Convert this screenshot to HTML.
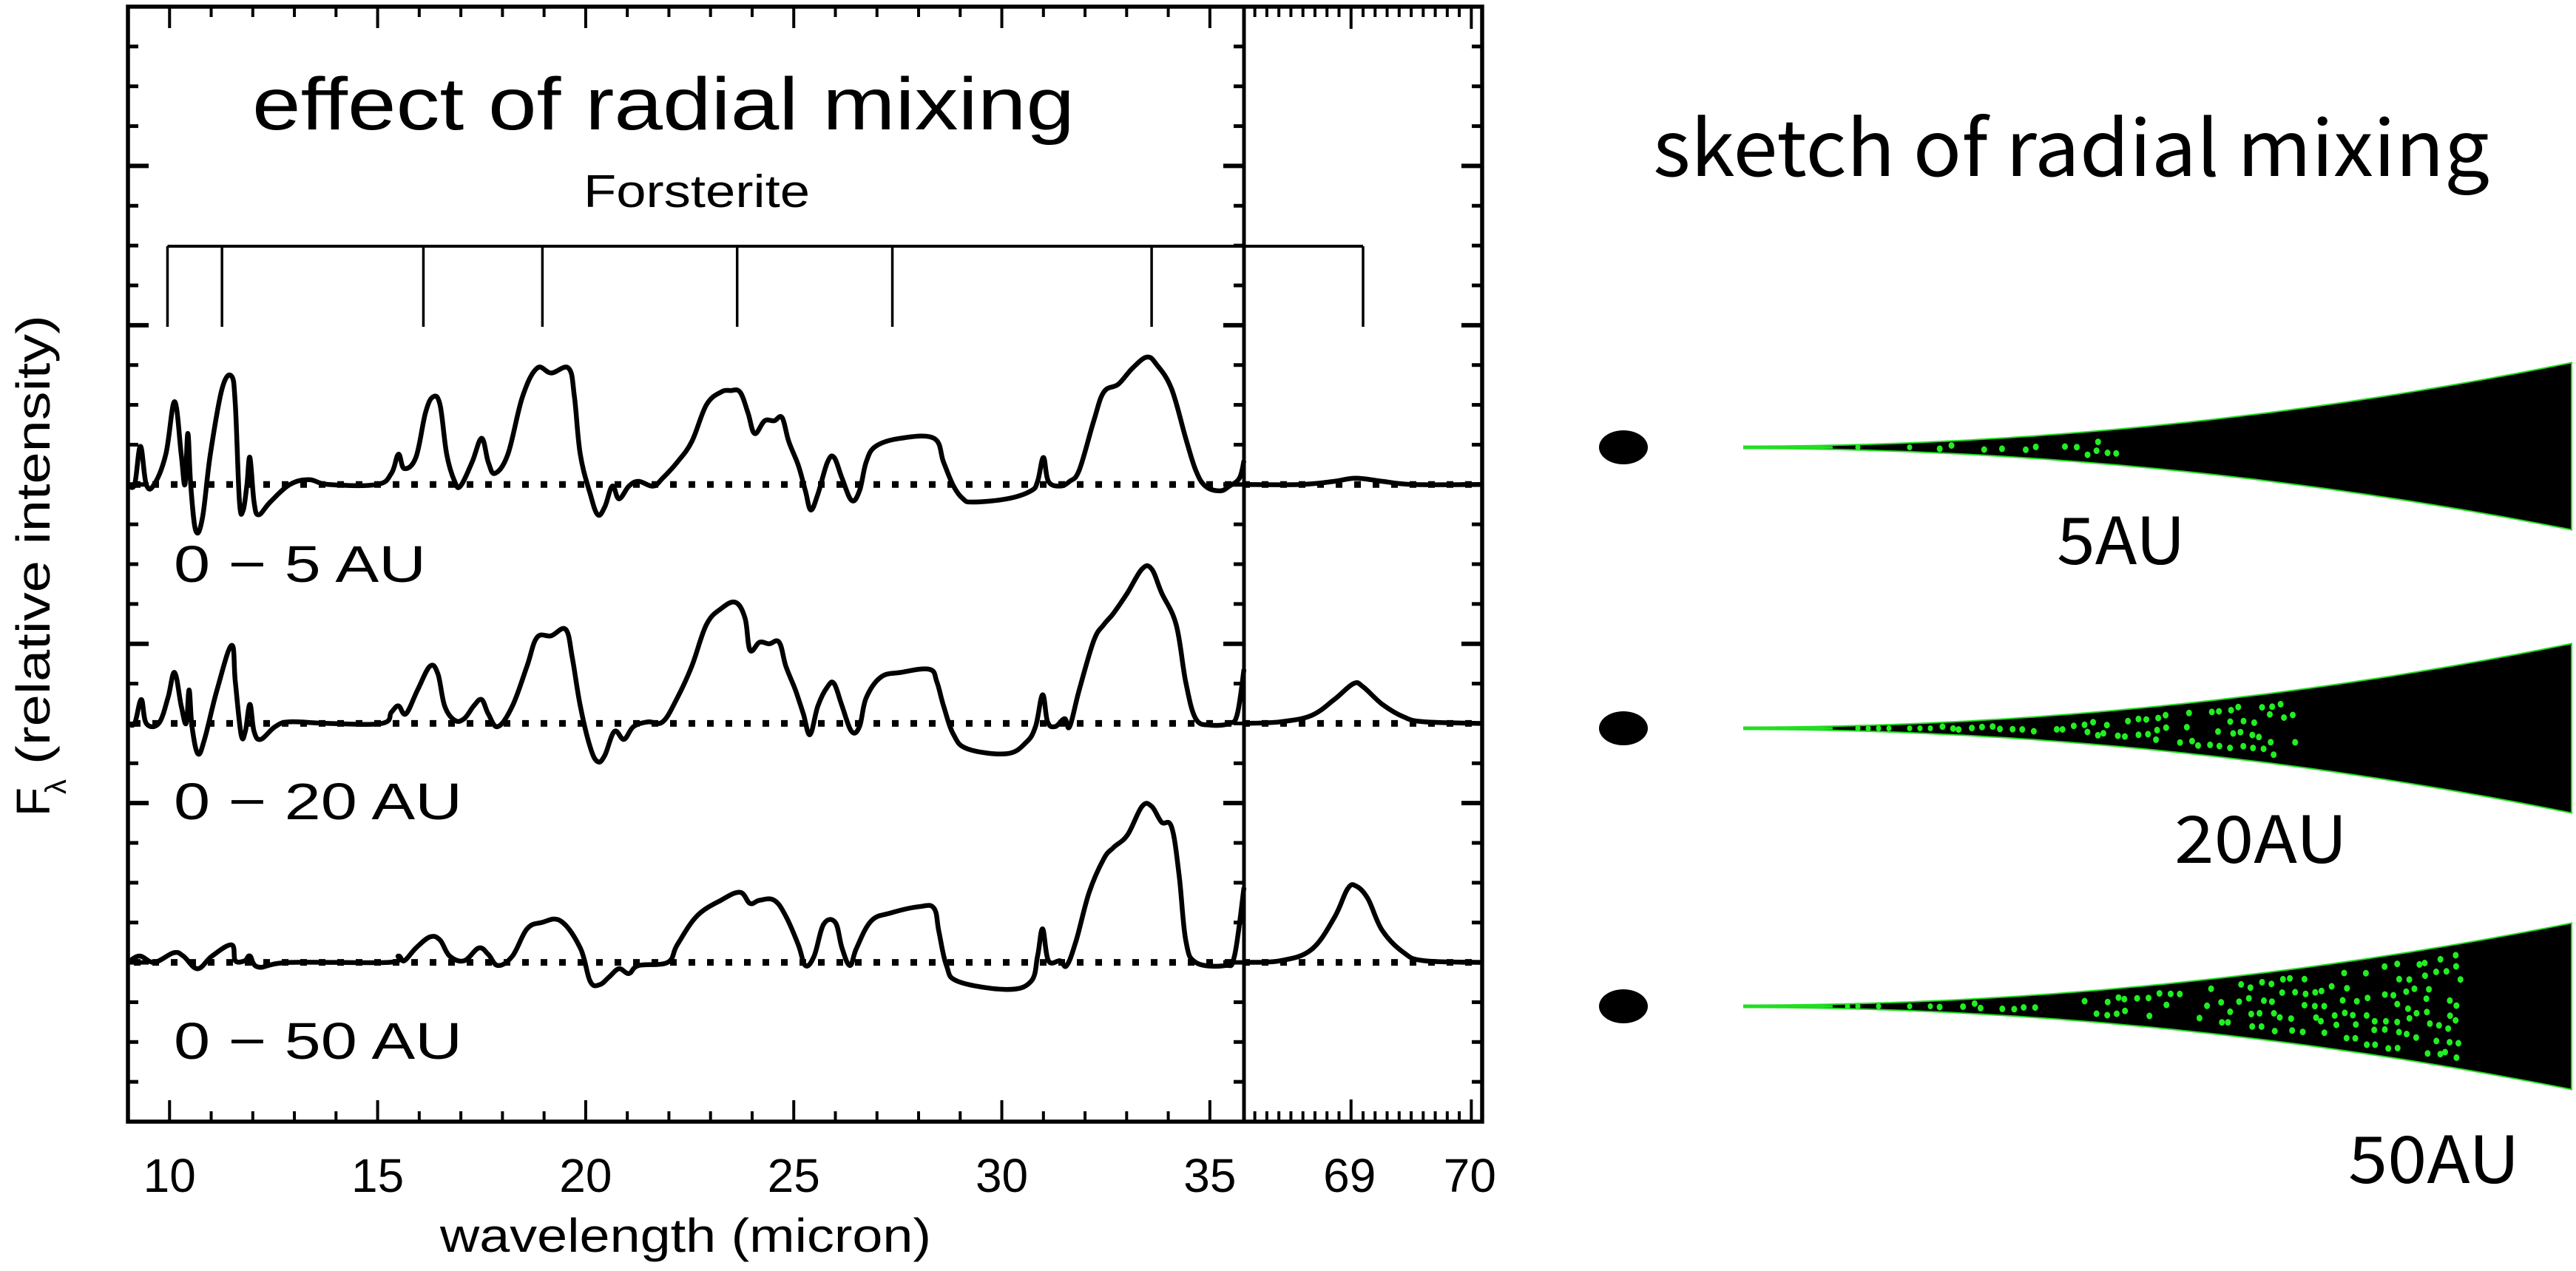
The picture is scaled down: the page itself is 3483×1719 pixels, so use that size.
<!DOCTYPE html>
<html><head><meta charset="utf-8">
<style>
html,body{margin:0;padding:0;background:#fff;}
svg{display:block;}
.hl{font-family:"Liberation Sans",sans-serif;fill:#000;}
.jp{font-family:"Noto Sans CJK JP","Liberation Sans",sans-serif;fill:#000;}
</style></head>
<body>
<svg id="fig" xmlns="http://www.w3.org/2000/svg" width="3483" height="1719" viewBox="0 0 3483 1719">
<rect x="0" y="0" width="3483" height="1719" fill="#fff"/>
<g id="plot"></g>
<g id="sketch"></g>
<text class="hl" x="341" y="175" font-size="100" textLength="1112" lengthAdjust="spacingAndGlyphs">effect of radial mixing</text>
<text class="hl" x="789" y="280" font-size="62" textLength="306" lengthAdjust="spacingAndGlyphs">Forsterite</text>
<text class="hl" x="235" y="787" font-size="70" textLength="341" lengthAdjust="spacingAndGlyphs">0 − 5 AU</text>
<text class="hl" x="235" y="1108" font-size="70" textLength="390" lengthAdjust="spacingAndGlyphs">0 − 20 AU</text>
<text class="hl" x="235" y="1432" font-size="70" textLength="390" lengthAdjust="spacingAndGlyphs">0 − 50 AU</text>
<text class="hl" x="595" y="1693" font-size="64" textLength="664" lengthAdjust="spacingAndGlyphs">wavelength (micron)</text>
<g transform="translate(67,1104) rotate(-90)">
<text class="hl" x="0" y="0" font-size="64">F</text>
<text class="hl" x="30" y="22" font-size="40">λ</text>
<text class="hl" x="70" y="0" font-size="64" textLength="608" lengthAdjust="spacingAndGlyphs">(relative intensity)</text>
</g>
<text class="jp" x="2235" y="238" font-size="104" textLength="1131" lengthAdjust="spacingAndGlyphs">sketch of radial mixing</text>
<text class="jp" x="2781" y="763" font-size="88" textLength="174" lengthAdjust="spacingAndGlyphs">5AU</text>
<text class="jp" x="2940" y="1167" font-size="88" textLength="234" lengthAdjust="spacingAndGlyphs">20AU</text>
<text class="jp" x="3175" y="1600" font-size="88" textLength="232" lengthAdjust="spacingAndGlyphs">50AU</text>
</svg>
<script>
// ---- data ----
const curveOffsets = [4, 2.5, 1];
const xTickLabels = [10, 15, 20, 25, 30, 35];
const rightTickLabels = [69, 70];
const forsteriteMain = [9.95, 11.26, 16.1, 18.96, 23.64, 27.37, 33.6];
const forsteriteRight = [69.1];
const spec5 = [[9.00,0],[9.16,0],[9.30,0.24],[9.44,0],[9.63,0],[9.91,0.19],[10.12,0.52],[10.28,0.19],[10.37,0],[10.44,0.32],[10.51,-0.01],[10.63,-0.29],[10.79,-0.21],[10.98,0.19],[11.26,0.6],[11.49,0.68],[11.58,0.5],[11.68,-0.11],[11.77,-0.16],[11.86,0],[11.93,0.17],[12.03,-0.11],[12.14,-0.19],[12.42,-0.11],[12.89,0],[13.35,0.03],[13.82,0],[14.98,0],[15.33,0.07],[15.50,0.19],[15.64,0.1],[15.92,0.17],[16.15,0.45],[16.33,0.55],[16.50,0.5],[16.66,0.19],[16.85,0.02],[16.99,-0.01],[17.27,0.14],[17.50,0.29],[17.66,0.14],[17.82,0.07],[18.13,0.19],[18.48,0.55],[18.83,0.73],[19.17,0.7],[19.59,0.73],[19.73,0.55],[19.87,0.19],[20.11,-0.06],[20.29,-0.19],[20.46,-0.14],[20.64,-0.01],[20.80,-0.09],[21.04,-0.01],[21.27,0.02],[21.62,-0.01],[21.85,0.04],[22.20,0.14],[22.55,0.27],[22.90,0.5],[23.25,0.58],[23.48,0.59],[23.71,0.58],[23.90,0.45],[24.06,0.32],[24.30,0.4],[24.53,0.4],[24.72,0.42],[24.88,0.27],[25.11,0.12],[25.28,-0.04],[25.41,-0.16],[25.58,-0.06],[25.81,0.14],[25.97,0.17],[26.16,0.04],[26.39,-0.1],[26.58,-0.04],[26.74,0.14],[26.97,0.24],[27.56,0.29],[28.37,0.29],[28.60,0.14],[28.84,-0.01],[29.07,-0.09],[29.30,-0.11],[30.12,-0.09],[30.70,-0.04],[30.86,0.02],[31.00,0.17],[31.12,0.02],[31.40,-0.01],[31.63,0.02],[31.86,0.09],[32.21,0.4],[32.45,0.58],[32.80,0.63],[33.14,0.73],[33.49,0.8],[33.73,0.75],[34.08,0.6],[34.42,0.29],[34.66,0.09],[34.89,-0.01],[35.24,-0.04],[35.47,-0.01],[35.71,0.04],[35.82,0.15]];
const spec20 = [[9.00,0],[9.16,0],[9.32,0.15],[9.44,0],[9.74,0],[9.96,0.16],[10.12,0.32],[10.28,0.11],[10.40,0],[10.47,0.21],[10.54,-0.02],[10.68,-0.19],[10.84,-0.1],[11.14,0.21],[11.49,0.49],[11.58,0.26],[11.72,-0.07],[11.82,-0.05],[11.93,0.12],[12.03,-0.05],[12.19,-0.1],[12.54,-0.02],[12.89,0.01],[13.82,0],[15.10,0],[15.33,0.07],[15.50,0.11],[15.68,0.06],[15.96,0.21],[16.26,0.36],[16.45,0.31],[16.61,0.11],[16.85,0.02],[17.08,0.03],[17.31,0.11],[17.50,0.15],[17.66,0.06],[17.89,-0.02],[18.24,0.11],[18.59,0.36],[18.83,0.54],[19.17,0.55],[19.52,0.59],[19.68,0.41],[19.87,0.11],[20.11,-0.15],[20.29,-0.24],[20.46,-0.2],[20.69,-0.05],[20.92,-0.1],[21.15,-0.02],[21.50,0.01],[21.85,0.01],[22.20,0.16],[22.55,0.36],[22.90,0.62],[23.25,0.72],[23.60,0.76],[23.83,0.66],[23.95,0.46],[24.18,0.51],[24.41,0.5],[24.65,0.51],[24.81,0.36],[25.04,0.21],[25.23,0.06],[25.39,-0.07],[25.58,0.11],[25.81,0.23],[25.97,0.25],[26.16,0.11],[26.39,-0.05],[26.58,-0.02],[26.74,0.16],[27.09,0.29],[27.56,0.32],[28.26,0.34],[28.44,0.26],[28.60,0.11],[28.84,-0.07],[29.18,-0.16],[30.12,-0.19],[30.58,-0.12],[30.81,-0.02],[30.98,0.18],[31.10,0.01],[31.28,-0.02],[31.51,0.03],[31.63,-0.02],[31.86,0.21],[32.21,0.52],[32.45,0.62],[32.68,0.69],[33.02,0.82],[33.37,0.97],[33.60,0.97],[33.84,0.82],[34.19,0.62],[34.42,0.26],[34.66,0.03],[35.01,-0.01],[35.47,0],[35.66,0.06],[35.82,0.34]];
const spec50 = [[9.00,0],[9.28,0.04],[9.63,0],[10.10,0.06],[10.33,0.04],[10.67,-0.04],[11.02,0.04],[11.49,0.11],[11.58,0.01],[11.81,0.01],[11.93,0.04],[12.14,-0.03],[12.89,0],[15.26,0],[15.50,0.04],[15.64,0.01],[15.92,0.09],[16.26,0.16],[16.50,0.14],[16.73,0.04],[17.08,0.01],[17.43,0.09],[17.66,0.05],[17.89,-0.02],[18.24,0.04],[18.59,0.21],[18.94,0.25],[19.40,0.26],[19.87,0.09],[20.11,-0.12],[20.34,-0.14],[20.57,-0.09],[20.80,-0.04],[21.04,-0.07],[21.27,-0.02],[21.97,0],[22.20,0.11],[22.67,0.29],[23.25,0.39],[23.71,0.44],[23.95,0.37],[24.18,0.39],[24.53,0.39],[24.81,0.29],[25.11,0.11],[25.28,-0.02],[25.49,0.04],[25.72,0.24],[26.00,0.25],[26.16,0.09],[26.35,-0.02],[26.51,0.09],[26.86,0.26],[27.33,0.31],[28.02,0.35],[28.37,0.34],[28.49,0.19],[28.67,-0.02],[28.95,-0.12],[30.12,-0.17],[30.70,-0.12],[30.86,0.04],[30.98,0.21],[31.12,0.01],[31.40,0.01],[31.56,-0.02],[31.79,0.14],[32.10,0.44],[32.45,0.65],[32.68,0.72],[33.02,0.8],[33.37,0.98],[33.60,0.98],[33.84,0.88],[34.08,0.85],[34.26,0.55],[34.42,0.14],[34.66,0],[35.36,-0.02],[35.59,0.04],[35.82,0.47]];
const far5 = [[68.11,0],[68.58,0],[68.86,0.02],[69.04,0.04],[69.26,0.02],[69.52,0],[70.09,0]];
const far20 = [[68.11,0],[68.41,0.01],[68.67,0.05],[68.86,0.15],[69.02,0.25],[69.10,0.23],[69.26,0.12],[69.44,0.04],[69.61,0.01],[70.09,0]];
const far50 = [[68.11,0],[68.41,0.01],[68.67,0.08],[68.86,0.28],[68.97,0.46],[69.04,0.48],[69.14,0.4],[69.26,0.2],[69.44,0.06],[69.61,0.01],[70.09,0]];

// ---- layout / scales ----
const L = 173, DIV = 1682, R = 2004, TOP = 9, BOT = 1517;
const mainDom = [9, 35.82], rightDom = [68.11, 70.09], yDom = [0, 7];
const xMain = v => L + (v - mainDom[0]) / (mainDom[1] - mainDom[0]) * (DIV - L);
const xRight = v => DIV + (v - rightDom[0]) / (rightDom[1] - rightDom[0]) * (R - DIV);
const yS = v => BOT - (v - yDom[0]) / (yDom[1] - yDom[0]) * (BOT - TOP);
const NS = 'http://www.w3.org/2000/svg';
const plot = document.getElementById('plot');
function mk(tag, attrs, parent) {
  const e = document.createElementNS(NS, tag);
  for (const k in attrs) e.setAttribute(k, attrs[k]);
  (parent || plot).appendChild(e);
  return e;
}
function smoothPath(pts) {
  let d = 'M' + pts[0][0].toFixed(1) + ',' + pts[0][1].toFixed(1);
  for (let i = 0; i < pts.length - 1; i++) {
    const p0 = pts[Math.max(0, i - 1)], p1 = pts[i], p2 = pts[i + 1], p3 = pts[Math.min(pts.length - 1, i + 2)];
    const t = 0.18;
    const c1x = p1[0] + (p2[0] - p0[0]) * t, c1y = p1[1] + (p2[1] - p0[1]) * t;
    const c2x = p2[0] - (p3[0] - p1[0]) * t, c2y = p2[1] - (p3[1] - p1[1]) * t;
    d += 'C' + c1x.toFixed(1) + ',' + c1y.toFixed(1) + ' ' + c2x.toFixed(1) + ',' + c2y.toFixed(1) + ' ' + p2[0].toFixed(1) + ',' + p2[1].toFixed(1);
  }
  return d;
}

// ---- y ticks (left, divider, right) ----
for (let k = 1; k < 28; k++) {
  const v = k * 0.25, y = yS(v), major = (k % 4 === 0);
  const len = major ? 28 : 14;
  let t = mk('line', {x1: L, x2: L + len, y1: y, y2: y, stroke: '#000', 'stroke-width': major ? 6 : 5});
  
  
  t = mk('line', {x1: DIV - len, x2: DIV, y1: y, y2: y, stroke: '#000', 'stroke-width': major ? 6 : 5});
  
  
  t = mk('line', {x1: R - len, x2: R, y1: y, y2: y, stroke: '#000', 'stroke-width': major ? 6 : 5});
  
  
}
// ---- x ticks main (top and bottom) ----
for (let v = 10; v <= 35; v++) {
  const x = xMain(v), major = (v % 5 === 0), len = major ? 29 : 14;
  let t = mk('line', {x1: x, x2: x, y1: BOT, y2: BOT - len, stroke: '#000', 'stroke-width': 4});
  
  
  t = mk('line', {x1: x, x2: x, y1: TOP, y2: TOP + len, stroke: '#000', 'stroke-width': 4});
  
  
}
// ---- x ticks right panel ----
for (let k = 69 * 10 - 8; k <= 700; k++) {
  const v = k / 10, x = xRight(v), major = (k % 10 === 0), len = major ? 30 : 14;
  let t = mk('line', {x1: x, x2: x, y1: BOT, y2: BOT - len, stroke: '#000', 'stroke-width': 4});
  
  
  t = mk('line', {x1: x, x2: x, y1: TOP, y2: TOP + len, stroke: '#000', 'stroke-width': 4});
  
  
}
// ---- tick labels ----
xTickLabels.forEach(v => {
  const t = mk('text', {x: xMain(v), y: 1612, 'text-anchor': 'middle', 'font-size': 64, class: 'hl'});
  t.textContent = v;
  
  
});
rightTickLabels.forEach(v => {
  const t = mk('text', {x: xRight(v) - 2, y: 1612, 'text-anchor': 'middle', 'font-size': 64, class: 'hl'});
  t.textContent = v;
  
  
});

// ---- forsterite band markers ----
const fy1 = 333, fy2 = 442;
let fb = mk('line', {x1: xMain(forsteriteMain[0]), x2: xRight(forsteriteRight[forsteriteRight.length - 1]), y1: fy1, y2: fy1, stroke: '#000', 'stroke-width': 4});


forsteriteMain.forEach(v => {
  const t = mk('line', {x1: xMain(v), x2: xMain(v), y1: fy1, y2: fy2, stroke: '#000', 'stroke-width': 3.5});
  
  
});
forsteriteRight.forEach(v => {
  const t = mk('line', {x1: xRight(v), x2: xRight(v), y1: fy1, y2: fy2, stroke: '#000', 'stroke-width': 3.5});
  
  
});

// ---- baselines & curves ----
const mains = [spec5, spec20, spec50], fars = [far5, far20, far50], names = ['5au', '20au', '50au'];
curveOffsets.forEach((off, i) => {
  const by = yS(off);
  const bl = mk('line', {x1: L + 8, x2: R - 4, y1: by, y2: by, stroke: '#000', 'stroke-width': 9, 'stroke-dasharray': '9 16'});
  
  
  const p = mk('path', {d: smoothPath(mains[i].map(d => [xMain(d[0]), yS(off + d[1])])), fill: 'none', stroke: '#000', 'stroke-width': 6.5, 'stroke-linejoin': 'round'});
  
  
  const q = mk('path', {d: smoothPath(fars[i].map(d => [xRight(d[0]), yS(off + d[1])])), fill: 'none', stroke: '#000', 'stroke-width': 6.5, 'stroke-linejoin': 'round'});
  
  
});

// ---- frame ----
let fr = mk('rect', {x: L, y: TOP, width: R - L, height: BOT - TOP, fill: 'none', stroke: '#000', 'stroke-width': 5.5});


let dv = mk('line', {x1: DIV, x2: DIV, y1: TOP, y2: BOT, stroke: '#000', 'stroke-width': 5});



// ---- sketch ----
const sk = document.getElementById('sketch');
const disks = [
  {cy: 605, top: 492, bot: 715, dotEnd: 2873},
  {cy: 985, top: 872, bot: 1098, dotEnd: 3115},
  {cy: 1361, top: 1250, bot: 1472, dotEnd: 3336}
];
const tipX = 2358, endX = 3477, P = 2.0;
let seed = 12345;
function rnd() { seed = (seed * 1103515245 + 12345) % 2147483648; return seed / 2147483648; }
disks.forEach((dk, i) => {
  const star = mk('ellipse', {cx: 2195, cy: dk.cy, rx: 33, ry: 23, fill: '#000'}, sk);
  
  
  const hu = dk.cy - dk.top, hd = dk.bot - dk.cy;
  let up = [], dn = [];
  for (let s = 0; s <= 60; s++) {
    const t = s / 60, x = tipX + t * (endX - tipX);
    up.push([x, dk.cy - 1.5 - hu * Math.pow(t, P)]);
    dn.push([x, dk.cy + 1.5 + hd * Math.pow(t, P)]);
  }
  const pts = up.concat(dn.reverse());
  const w = mk('polygon', {points: pts.map(p => p[0].toFixed(1) + ',' + p[1].toFixed(1)).join(' '), fill: '#000', stroke: '#22dd22', 'stroke-width': 2}, sk);
  
  
  const tip = mk('line', {x1: tipX, x2: tipX + 120, y1: dk.cy, y2: dk.cy, stroke: '#22dd22', 'stroke-width': 3}, sk);
  
  
  const g = mk('g', {fill: '#22ee22'}, sk);
  
  
  // jittered grid of grains, evenly filling the wedge up to dotEnd
  for (let x = tipX + 140; x <= dk.dotEnd - 4; x += 14) {
    const t = (x - tipX) / (endX - tipX);
    const h = hu * Math.pow(t, P) - 5;
    if (h < 1) {
      if (rnd() < 0.5) {
        const c = mk('ellipse', {cx: x, cy: dk.cy, rx: 3.5, ry: 4}, g);
        
        
      }
      continue;
    }
    const rows = Math.max(1, Math.round(2 * h / 18));
    for (let r = 0; r < rows; r++) {
      if (rnd() < 0.3) continue;
      const yy = dk.cy - h + (r + 0.5) * (2 * h / rows) + (rnd() - 0.5) * 8;
      const xx = x + (rnd() - 0.5) * 8;
      const c = mk('ellipse', {cx: xx.toFixed(1), cy: yy.toFixed(1), rx: 4, ry: 4.5}, g);
      
      
    }
  }
});
</script>
</body></html>
